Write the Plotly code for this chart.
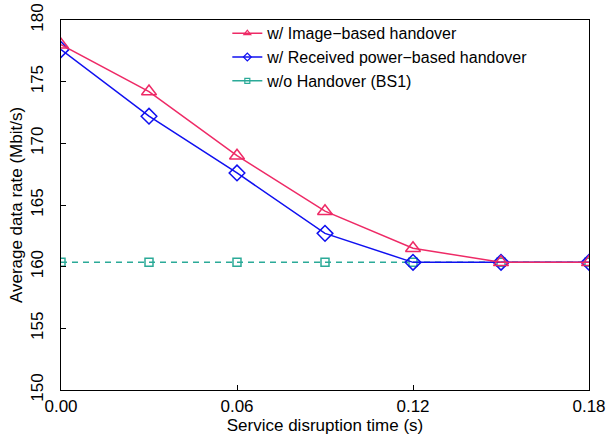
import plotly.graph_objects as go

x_vals = [0.00, 0.03, 0.06, 0.09, 0.12, 0.15, 0.18]
image_based = [178.0, 174.2, 169.0, 164.5, 161.5, 160.35, 160.35]
power_based = [177.6, 172.2, 167.6, 162.7, 160.35, 160.35, 160.35]
no_handover = [160.35, 160.35, 160.35, 160.35, 160.35, 160.35, 160.35]

names = ["w/ Image\u2212based handover", "w/ Received power\u2212based handover", "w/o Handover (BS1)"]
colors = ["#EE2A66", "#1010F0", "#2BAA98"]

x_ticks = [0.00, 0.06, 0.12, 0.18]
x_ticktext = ["0.00", "0.06", "0.12", "0.18"]
y_ticks = [150, 155, 160, 165, 170, 175, 180]

FONT = "Liberation Sans, Arial, sans-serif"

fig = go.Figure()

# legend-only entries (small markers like the reference legend)
fig.add_trace(go.Scatter(x=[None], y=[None], mode="lines+markers", name=names[0],
                         line=dict(color=colors[0], width=1.5),
                         marker=dict(symbol="triangle-up-open", size=6, color=colors[0], line=dict(width=1.2))))
fig.add_trace(go.Scatter(x=[None], y=[None], mode="lines+markers", name=names[1],
                         line=dict(color=colors[1], width=1.5),
                         marker=dict(symbol="diamond-open", size=6, color=colors[1], line=dict(width=1.2))))
fig.add_trace(go.Scatter(x=[None], y=[None], mode="lines+markers", name=names[2],
                         line=dict(color=colors[2], width=1.5),
                         marker=dict(symbol="square-open", size=5, color=colors[2], line=dict(width=1.2))))

# data traces
fig.add_trace(go.Scatter(x=x_vals, y=no_handover, mode="lines+markers", showlegend=False,
                         line=dict(color=colors[2], width=1.5, dash="6px,5px"),
                         marker=dict(symbol="square-open", size=8, color=colors[2], line=dict(width=1.5))))
fig.add_trace(go.Scatter(x=x_vals, y=power_based, mode="lines+markers", showlegend=False,
                         line=dict(color=colors[1], width=1.5),
                         marker=dict(symbol="diamond-open", size=12, color=colors[1], line=dict(width=1.5))))
fig.add_trace(go.Scatter(x=x_vals, y=image_based, mode="lines+markers", showlegend=False,
                         line=dict(color=colors[0], width=1.5),
                         marker=dict(symbol="triangle-up-open", size=13, color=colors[0], line=dict(width=1.5))))

fig.update_layout(
    width=608, height=443,
    margin=dict(l=61, r=19, t=20, b=53, autoexpand=False),
    paper_bgcolor="white", plot_bgcolor="white",
    font=dict(family=FONT, size=17, color="black"),
    legend=dict(x=0.315, y=1.01, xanchor="left", yanchor="top",
                bgcolor="rgba(0,0,0,0)", borderwidth=0,
                font=dict(family=FONT, size=16, color="black"),
                tracegroupgap=0),
    xaxis=dict(range=[0, 0.18], tickvals=x_ticks, ticktext=x_ticktext, automargin=False,
               ticks="inside", ticklen=5, tickcolor="black", tickwidth=1,
               showline=True, linecolor="black", linewidth=1, mirror=True,
               showgrid=False, zeroline=False, ticklabelstandoff=1,
               title=dict(text="Service disruption time (s)", standoff=0,
                          font=dict(family=FONT, size=17)),
               tickfont=dict(family=FONT, size=17)),
    yaxis=dict(range=[150, 180], tickvals=y_ticks, automargin=False,
               ticks="inside", ticklen=5, tickcolor="black", tickwidth=1,
               showline=True, linecolor="black", linewidth=1, mirror=True,
               showgrid=False, zeroline=False, tickangle=-90, ticklabelstandoff=10,
               title=dict(text="Average data rate (Mbit/s)", standoff=1,
                          font=dict(family=FONT, size=17)),
               tickfont=dict(family=FONT, size=17)),
)

fig.write_html("out.html")
